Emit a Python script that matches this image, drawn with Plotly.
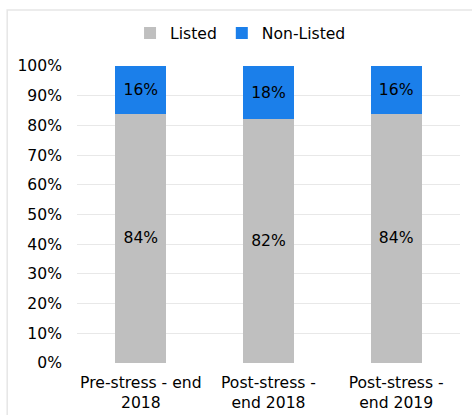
import plotly.graph_objects as go

categories = ["Pre-stress - end<br>2018", "Post-stress -<br>end 2018", "Post-stress -<br>end 2019"]
listed = [84, 82, 84]
non_listed = [16, 18, 16]
series_names = ["Listed", "Non-Listed"]

FONT = "DejaVu Sans, Verdana, sans-serif"
FS = 15.6
W, H = 472, 415
ml, mr, mt, mb = 76.5, 11.5, 65.7, 51.7
pw = W - ml - mr
ph = H - mt - mb

fig = go.Figure()
fig.add_trace(go.Bar(
    x=categories, y=listed, name=series_names[0],
    marker=dict(color="#BFBFBF", line=dict(width=0)),
    text=[f"{v}%" for v in listed], textposition="inside",
    insidetextanchor="middle", textfont=dict(color="black", size=FS, family=FONT),
))
fig.add_trace(go.Bar(
    x=categories, y=non_listed, name=series_names[1],
    marker=dict(color="#1B7FEA", line=dict(width=0)),
    text=[f"{v}%" for v in non_listed], textposition="inside",
    insidetextanchor="middle", textfont=dict(color="black", size=FS, family=FONT),
))

fig.update_layout(
    width=W, height=H,
    margin=dict(l=ml, r=mr, t=mt, b=mb, pad=0, autoexpand=False),
    barmode="stack", bargap=0.6,
    plot_bgcolor="white", paper_bgcolor="white",
    font=dict(family=FONT, size=FS, color="black"),
    uniformtext=dict(mode="show", minsize=8),
    legend=dict(orientation="h", x=0.427, xanchor="center", y=1.0 + (mt - 33) / ph, yanchor="middle",
                font=dict(size=FS), itemwidth=30, traceorder="normal",
                bgcolor="rgba(0,0,0,0)"),
    showlegend=True,
    xaxis=dict(showgrid=False, showline=False, ticks="", tickfont=dict(size=FS),
               ticklabelstandoff=8, automargin=False),
    yaxis=dict(range=[0, 100], dtick=10, ticksuffix="%", showgrid=True, gridcolor="#E8E8E8",
               gridwidth=1.3, zeroline=False, showline=False, ticks="", ticklabelstandoff=14,
               tickfont=dict(size=FS), automargin=False),
    shapes=[dict(type="rect", xref="paper", yref="paper",
                 x0=(6.5 - ml) / pw, x1=(W + 5 - ml) / pw,
                 y0=-(H + 5 - mt - ph) / ph, y1=(mt + ph - 9.5) / ph,
                 line=dict(color="#E6E6E6", width=1.5), fillcolor="rgba(0,0,0,0)", layer="below")],
)
fig.write_html("out.html", config={"displayModeBar": False},
               post_script="document.body.style.margin='0';")
